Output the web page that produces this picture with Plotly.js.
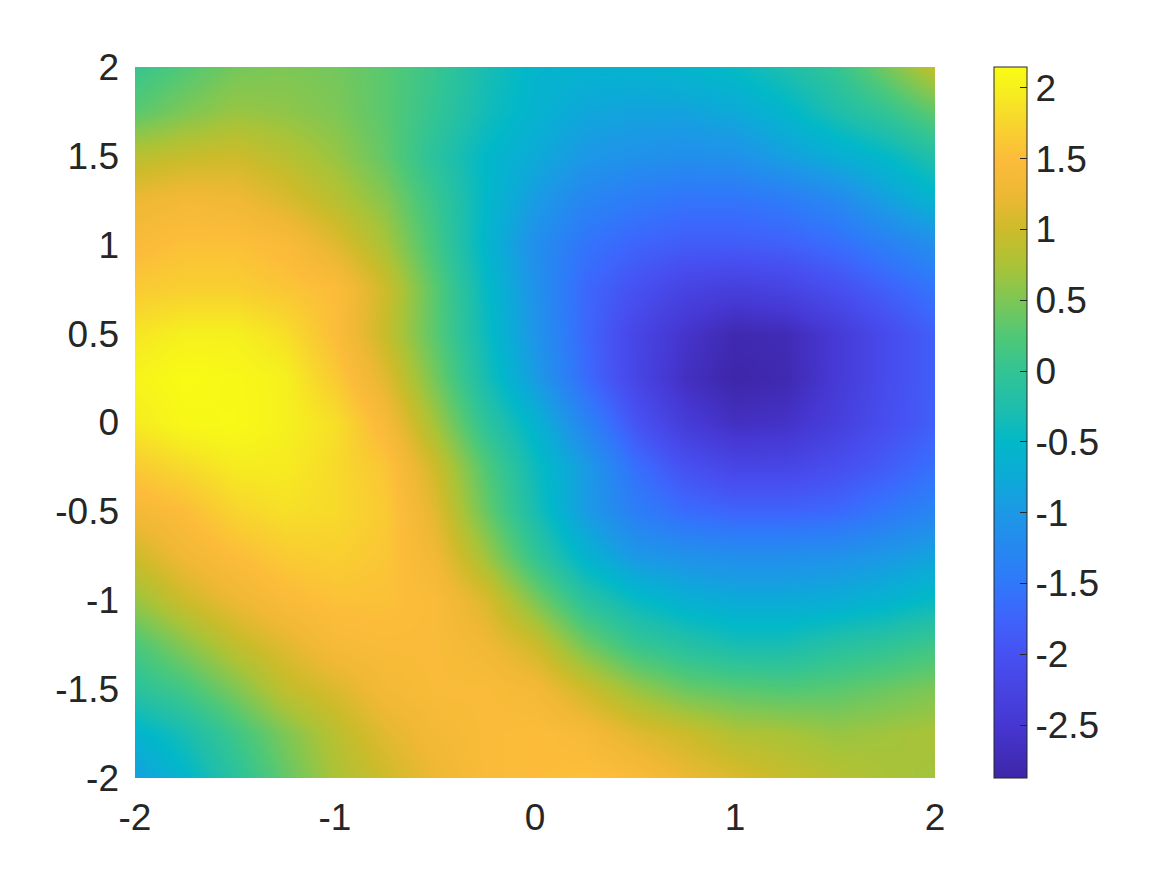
<!DOCTYPE html>
<html>
<head>
<meta charset="utf-8">
<script src="https://cdn.plot.ly/plotly-3.0.1.min.js"></script>
<style>html,body{margin:0;padding:0;background:#fff;}#chart{width:1167px;height:875px;}</style>
</head>
<body>
<div id="chart"></div>
<script>
// grid coordinates (cell centres)
const xs = [-2, -1.75, -1.5, -1.25, -1, -0.75, -0.5, -0.25, 0, 0.25, 0.5, 0.75, 1, 1.25, 1.5, 1.75, 2];
const ys = [-2, -1.75, -1.5, -1.25, -1, -0.75, -0.5, -0.25, 0, 0.25, 0.5, 0.75, 1, 1.25, 1.5, 1.75, 2];

// values, one row per y (bottom to top)
const rowYm200 = [-0.9, -0.55, -0.1, 0.35, 0.75, 1.0, 1.25, 1.45, 1.5, 1.55, 1.45, 1.25, 1.1, 0.95, 0.85, 0.75, 0.7];
const rowYm175 = [-0.6, -0.3, 0.1, 0.5, 0.85, 1.15, 1.35, 1.45, 1.5, 1.4, 1.15, 1.0, 0.8, 0.75, 0.65, 0.7, 0.75];
const rowYm150 = [-0.1, 0.15, 0.5, 0.9, 1.1, 1.35, 1.45, 1.45, 1.35, 1.0, 0.65, 0.4, 0.3, 0.25, 0.3, 0.4, 0.5];
const rowYm125 = [0.2, 0.55, 0.9, 1.15, 1.4, 1.45, 1.45, 1.3, 1.0, 0.45, 0.05, -0.15, -0.3, -0.3, -0.15, -0.05, 0.1];
const rowYm100 = [0.65, 1.0, 1.25, 1.45, 1.55, 1.55, 1.45, 1.1, 0.5, -0.1, -0.45, -0.65, -0.75, -0.75, -0.7, -0.6, -0.45];
const rowYm075 = [1.0, 1.3, 1.5, 1.65, 1.7, 1.6, 1.3, 0.7, 0.0, -0.6, -1.0, -1.1, -1.15, -1.15, -1.1, -1.0, -0.85];
const rowYm050 = [1.35, 1.5, 1.75, 1.85, 1.8, 1.65, 1.15, 0.4, -0.3, -0.95, -1.4, -1.65, -1.75, -1.75, -1.7, -1.5, -1.3];
const rowYm025 = [1.65, 1.8, 1.95, 1.95, 1.8, 1.6, 1.0, 0.25, -0.4, -0.95, -1.6, -2.0, -2.2, -2.2, -2.05, -1.85, -1.6];
const rowY000 = [1.95, 2.1, 2.12, 2.0, 1.85, 1.4, 0.7, -0.05, -0.6, -1.3, -1.95, -2.4, -2.65, -2.6, -2.35, -2.05, -1.8];
const rowY025 = [2.05, 2.14, 2.1, 2.0, 1.65, 1.15, 0.45, -0.3, -0.95, -1.65, -2.2, -2.65, -2.87, -2.8, -2.45, -2.1, -1.8];
const rowY050 = [1.9, 2.0, 2.0, 1.85, 1.5, 0.95, 0.3, -0.4, -1.05, -1.7, -2.2, -2.55, -2.8, -2.75, -2.45, -2.1, -1.8];
const rowY075 = [1.65, 1.7, 1.7, 1.6, 1.5, 1.0, 0.3, -0.45, -1.1, -1.7, -2.0, -2.25, -2.35, -2.25, -2.05, -1.8, -1.55];
const rowY100 = [1.45, 1.55, 1.55, 1.45, 1.15, 0.75, 0.15, -0.55, -1.15, -1.55, -1.75, -1.85, -1.85, -1.8, -1.65, -1.4, -1.15];
const rowY125 = [1.25, 1.35, 1.3, 1.1, 0.85, 0.55, 0.05, -0.5, -0.95, -1.3, -1.45, -1.55, -1.55, -1.45, -1.25, -0.9, -0.6];
const rowY150 = [0.85, 0.95, 1.0, 0.85, 0.65, 0.35, -0.1, -0.5, -0.75, -1.0, -1.1, -1.15, -1.1, -0.9, -0.7, -0.5, -0.2];
const rowY175 = [0.3, 0.5, 0.65, 0.6, 0.5, 0.3, 0.0, -0.35, -0.6, -0.8, -0.85, -0.85, -0.75, -0.55, -0.25, 0.0, 0.35];
const rowY200 = [0.05, 0.25, 0.45, 0.5, 0.45, 0.3, 0.05, -0.3, -0.55, -0.6, -0.6, -0.55, -0.45, -0.25, 0.0, 0.45, 0.9];

// colour limits (colorbar ends)
const zLow = -2.874;
const zHigh = 2.148;

// tick values and labels
const xTickVals = [-2, -1, 0, 1, 2];
const xTickText = ['-2', '-1', '0', '1', '2'];
const yTickVals = [-2, -1.5, -1, -0.5, 0, 0.5, 1, 1.5, 2];
const yTickText = ['-2', '-1.5', '-1', '-0.5', '0', '0.5', '1', '1.5', '2'];
const cbTickVals = [-2.5, -2, -1.5, -1, -0.5, 0, 0.5, 1, 1.5, 2];
const cbTickText = ['-2.5', '-2', '-1.5', '-1', '-0.5', '0', '0.5', '1', '1.5', '2'];

const zRows = [rowYm200, rowYm175, rowYm150, rowYm125, rowYm100, rowYm075, rowYm050, rowYm025,
  rowY000, rowY025, rowY050, rowY075, rowY100, rowY125, rowY150, rowY175, rowY200];

const parula = [
  [0.000, 'rgb(62,38,168)'],
  [0.075, 'rgb(70,55,210)'],
  [0.174, 'rgb(71,80,242)'],
  [0.225, 'rgb(62,100,252)'],
  [0.274, 'rgb(48,120,250)'],
  [0.323, 'rgb(38,136,240)'],
  [0.373, 'rgb(28,152,230)'],
  [0.423, 'rgb(12,170,215)'],
  [0.473, 'rgb(2,184,200)'],
  [0.522, 'rgb(30,190,172)'],
  [0.572, 'rgb(50,196,148)'],
  [0.622, 'rgb(80,200,118)'],
  [0.672, 'rgb(125,199,85)'],
  [0.721, 'rgb(170,195,55)'],
  [0.771, 'rgb(205,187,42)'],
  [0.821, 'rgb(238,184,52)'],
  [0.871, 'rgb(252,188,58)'],
  [0.920, 'rgb(248,212,46)'],
  [0.970, 'rgb(246,240,30)'],
  [1.000, 'rgb(249,251,20)']
];

const font = {family: 'Liberation Sans, Arial, Helvetica, sans-serif', size: 37, color: '#262626'};

const trace = {
  type: 'heatmap',
  x: xs,
  y: ys,
  z: zRows,
  zsmooth: 'best',
  zmin: zLow,
  zmax: zHigh,
  colorscale: parula,
  hoverinfo: 'skip',
  colorbar: {
    x: 1.074, xanchor: 'left', xpad: 0,
    y: 0.5, yanchor: 'middle', ypad: 0,
    len: 1, lenmode: 'fraction',
    thickness: 33, thicknessmode: 'pixels',
    outlinewidth: 1, outlinecolor: '#262626',
    ticks: 'inside', ticklen: 7, tickwidth: 1, tickcolor: '#262626',
    tickvals: cbTickVals, ticktext: cbTickText,
    tickfont: font,
    ticklabelstandoff: 15
  }
};

const layout = {
  width: 1167, height: 875,
  margin: {l: 135, r: 232, t: 67, b: 97, pad: 0},
  paper_bgcolor: '#ffffff', plot_bgcolor: '#ffffff',
  font: font,
  showlegend: false,
  xaxis: {
    range: [-2, 2], tickvals: xTickVals, ticktext: xTickText,
    showgrid: false, zeroline: false, showline: false, ticks: '',
    tickfont: font, ticklabelstandoff: 14
  },
  yaxis: {
    range: [-2, 2], tickvals: yTickVals, ticktext: yTickText,
    showgrid: false, zeroline: false, showline: false, ticks: '',
    tickfont: font, ticklabelstandoff: 15
  }
};

Plotly.newPlot('chart', [trace], layout, {displayModeBar: false, staticPlot: true});
</script>
</body>
</html>
